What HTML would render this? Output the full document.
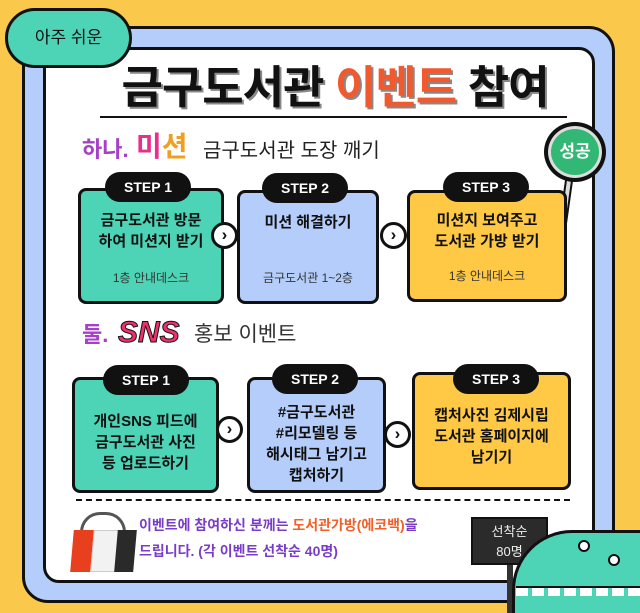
<!DOCTYPE html>
<html><head><meta charset="utf-8"><style>
*{margin:0;padding:0;box-sizing:border-box}
html{width:640px;height:613px;overflow:hidden}
body{width:640px;height:613px;overflow:hidden;background:#FAC94B;position:relative;font-family:"Liberation Sans","Noto Sans CJK KR",sans-serif;font-weight:bold}
.a{position:absolute}
.frame{left:22px;top:26px;width:593px;height:577px;background:#B5CDFB;border:3px solid #111;border-radius:26px}
.panel{left:43px;top:47px;width:552px;height:536px;background:#fff;border:3px solid #111;border-radius:16px}
.box{position:absolute;border:3px solid #111;border-radius:8px;display:flex;flex-direction:column;align-items:center;justify-content:center;text-align:center;font-size:15px;line-height:21px;color:#111}
.pill{position:absolute;background:#111;color:#fff;border-radius:16px;width:86px;height:30px;text-align:center;line-height:30px;font-size:14px;font-family:"Liberation Sans",sans-serif}
.arr{position:absolute;width:27px;height:27px;border-radius:50%;background:#fff;border:3px solid #111;text-align:center;line-height:20px;font-size:17px;color:#111}
.sub{position:absolute;font-size:12px;color:#333;font-weight:normal;width:100%;text-align:center}
</style></head><body>
<div class="a frame"></div>
<div class="a panel"></div>
<div class="a" style="left:5px;top:8px;width:127px;height:60px;background:#4DD3B5;border:3px solid #111;border-radius:30px;text-align:center;line-height:54px;font-size:17px;font-weight:normal;color:#111">아주 쉬운</div>
<div class="a" style="left:100px;top:62px;width:470px;text-align:center;font-size:45px;line-height:52px;color:#111;letter-spacing:-1px;text-shadow:2px 2px 0 #888">금구도서관 <span style="color:#F05A2E">이벤트</span> 참여</div>
<div class="a" style="left:100px;top:116px;width:467px;height:2px;background:#111"></div>
<div class="a" style="left:82px;top:135px;font-size:22px;line-height:30px;color:#A640C8">하나.</div>
<div class="a" style="left:136px;top:130px;font-size:28px;line-height:34px"><span style="color:#E8308A">미</span><span style="color:#F0A020">션</span></div>
<div class="a" style="left:203px;top:137px;font-size:20px;line-height:28px;color:#222;font-weight:normal">금구도서관 도장 깨기</div>
<div class="a" style="left:560px;top:175px;width:8px;height:82px;background:#ddd;border:2px solid #111;transform:rotate(8deg)"></div>
<div class="a" style="left:544px;top:122px;width:62px;height:60px;border-radius:50%;background:#33B774;border:4px solid #111;box-shadow:0 0 0 3px #ddd inset;color:#fff;text-align:center;line-height:52px;font-size:17px">성공</div>
<div class="box" style="left:78px;top:188px;width:146px;height:116px;background:#4DD3B5;padding-bottom:30px">금구도서관 방문<br>하여 미션지 받기<div class="sub" style="bottom:12px">1층 안내데스크</div></div>
<div class="box" style="left:237px;top:190px;width:142px;height:114px;background:#B5CDFB;padding-bottom:50px">미션 해결하기<div class="sub" style="bottom:12px">금구도서관 1~2층</div></div>
<div class="box" style="left:407px;top:190px;width:160px;height:112px;background:#FFC845;padding-bottom:30px">미션지 보여주고<br>도서관 가방 받기<div class="sub" style="bottom:12px">1층 안내데스크</div></div>
<div class="pill" style="left:105px;top:172px">STEP 1</div>
<div class="pill" style="left:262px;top:173px">STEP 2</div>
<div class="pill" style="left:443px;top:172px">STEP 3</div>
<div class="arr" style="left:211px;top:222px">›</div>
<div class="arr" style="left:380px;top:222px">›</div>
<div class="a" style="left:82px;top:320px;font-size:22px;line-height:30px;color:#A640C8">둘.</div>
<div class="a" style="left:118px;top:315px;font-size:30px;line-height:36px;color:#F0306A;-webkit-text-stroke:1px #111;font-style:italic">SNS</div>
<div class="a" style="left:194px;top:321px;font-size:21px;line-height:28px;color:#333;font-weight:normal">홍보 이벤트</div>
<div class="box" style="left:72px;top:377px;width:147px;height:116px;background:#4DD3B5;padding-top:14px">개인SNS 피드에<br>금구도서관 사진<br>등 업로드하기</div>
<div class="box" style="left:247px;top:377px;width:139px;height:116px;background:#B5CDFB;padding-top:18px">#금구도서관<br>#리모델링 등<br>해시태그 남기고<br>캡처하기</div>
<div class="box" style="left:412px;top:372px;width:159px;height:118px;background:#FFC845;padding-top:10px">캡처사진 김제시립<br>도서관 홈페이지에<br>남기기</div>
<div class="pill" style="left:103px;top:365px">STEP 1</div>
<div class="pill" style="left:272px;top:364px">STEP 2</div>
<div class="pill" style="left:453px;top:364px">STEP 3</div>
<div class="arr" style="left:216px;top:416px">›</div>
<div class="arr" style="left:384px;top:421px">›</div>
<div class="a" style="left:76px;top:499px;width:494px;border-top:2px dashed #111"></div>
<div class="a" style="left:80px;top:512px;width:46px;height:34px;border:3px solid #555;border-bottom:none;border-radius:20px 20px 0 0"></div>
<div class="a" style="left:72px;top:530px;width:63px;height:42px;transform:skewX(-5deg)">
<div class="a" style="left:0;top:0;width:22px;height:42px;background:#E8401E"></div>
<div class="a" style="left:20px;top:0;width:25px;height:42px;background:#F2F2F2;border:1px solid #ccc"></div>
<div class="a" style="left:44px;top:0;width:19px;height:42px;background:#2a2a2a"></div></div>
<div class="a" style="left:139px;top:514px;font-size:14px;line-height:22px;color:#7A3CC8">이벤트에 참여하신 분께는 <span style="color:#F0602A">도서관가방(에코백)</span>을</div>
<div class="a" style="left:139px;top:540px;font-size:14px;line-height:22px;color:#7A3CC8">드립니다. (각 이벤트 선착순 40명)</div>
<div class="a" style="left:507px;top:560px;width:6px;height:53px;background:#333"></div>
<div class="a" style="left:471px;top:517px;width:77px;height:48px;background:#2b2b2b;border:2px solid #111;color:#eee;font-weight:normal;font-size:13px;line-height:20px;text-align:center;padding-top:3px">선착순<br>80명</div>
<div class="a" style="left:512px;top:530px;width:128px;height:83px;background:#4DD3B5;border:3px solid #111;border-right:none;border-bottom:none;border-radius:60px 0 0 0"></div>
<div class="a" style="left:578px;top:540px;width:12px;height:12px;border-radius:50%;background:#fff;border:2px solid #111"></div>
<div class="a" style="left:608px;top:554px;width:12px;height:12px;border-radius:50%;background:#fff;border:2px solid #111"></div>
<div class="a" style="left:516px;top:586px;width:124px;height:10px;background:repeating-linear-gradient(90deg,#fff 0 12px,#4DD3B5 12px 16px);border-top:2px solid #111"></div>
</body></html>
